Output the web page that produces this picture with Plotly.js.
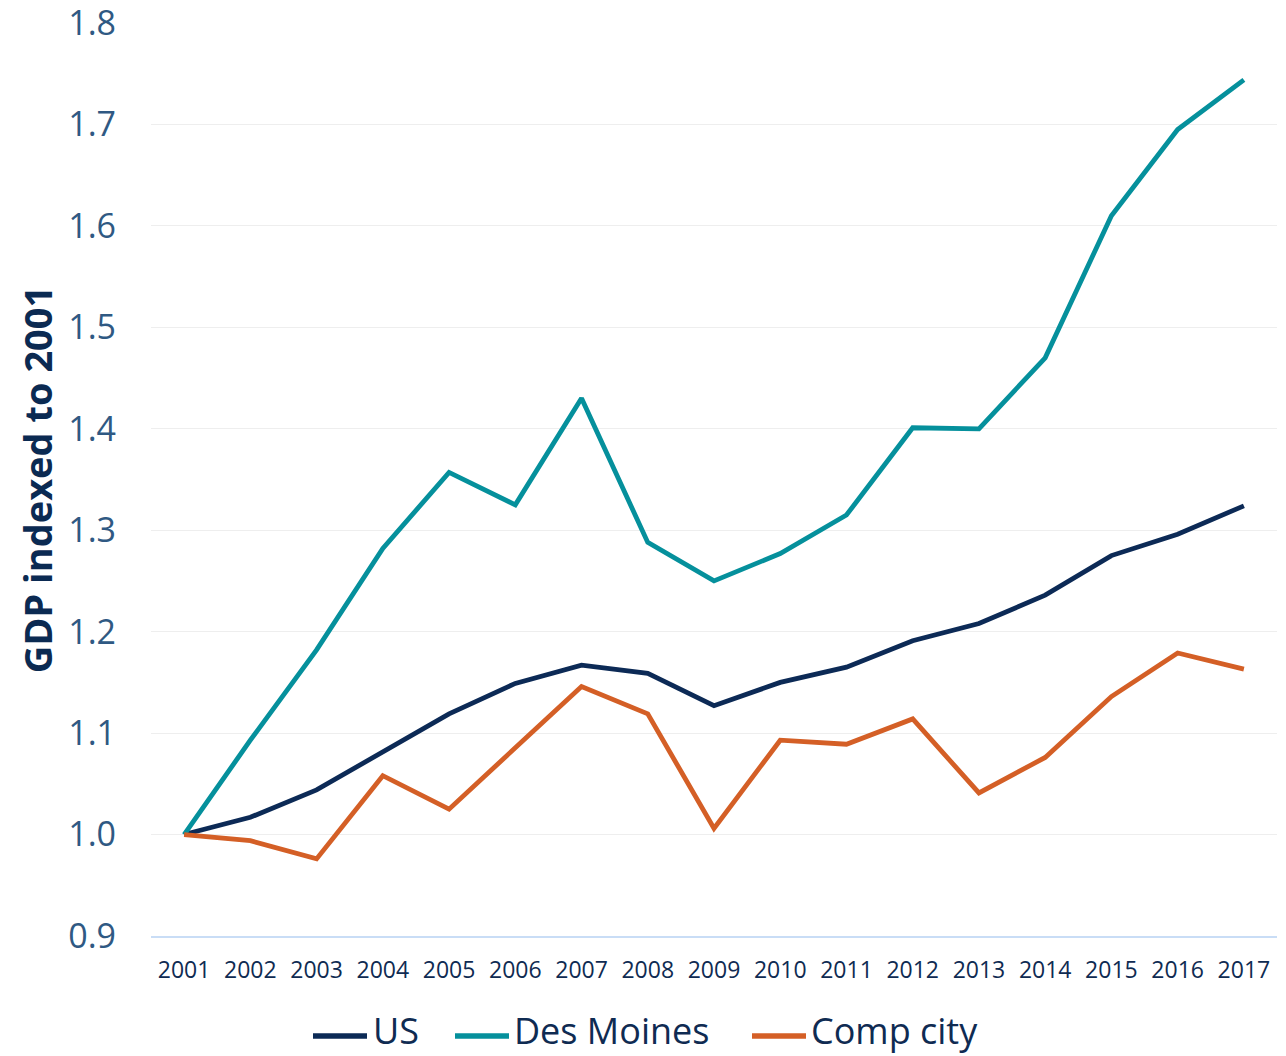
<!DOCTYPE html>
<html>
<head>
<meta charset="utf-8">
<script src="https://cdn.plot.ly/plotly-3.0.1.min.js"></script>
<style>html,body{margin:0;padding:0;background:#fff;}#chart{width:1286px;height:1056px;}</style>
</head>
<body>
<div id="chart"></div>
<script>
const years = ["2001","2002","2003","2004","2005","2006","2007","2008","2009","2010","2011","2012","2013","2014","2015","2016","2017"];
const usValues = [1.000,1.017,1.044,1.081,1.119,1.149,1.167,1.159,1.127,1.150,1.165,1.191,1.208,1.236,1.275,1.296,1.324];
const desMoinesValues = [1.000,1.093,1.182,1.282,1.357,1.325,1.430,1.288,1.250,1.277,1.315,1.401,1.400,1.470,1.610,1.695,1.744];
const compCityValues = [1.000,0.994,0.976,1.058,1.025,1.086,1.146,1.119,1.006,1.093,1.089,1.114,1.041,1.076,1.136,1.179,1.163];
const yTicks = [0.9,1.0,1.1,1.2,1.3,1.4,1.5,1.6,1.7,1.8];
const seriesNames = ['US','Des Moines','Comp city'];
const seriesColors = ['#0c2a56','#05909c','#d45f26'];
const seriesValues = [usValues, desMoinesValues, compCityValues];

const data = seriesNames.map((name, i) => ({
  type: 'scatter', mode: 'lines', name: name, x: years, y: seriesValues[i],
  line: {color: seriesColors[i], width: 4.8}, showlegend: false
}));

// manual legend (pixel positions converted to paper coords)
const plotL = 151, plotR = 1277, plotT = 23, plotB = 936;
const px = v => (v - plotL) / (plotR - plotL);
const py = v => (plotB - v) / (plotB - plotT);
const legendItems = [
  {line: [313, 367], text: 372},
  {line: [455, 509], text: 513},
  {line: [752, 806], text: 810}
];
const legY = 1036;
const shapes = legendItems.map((it, i) => ({
  type: 'line', xref: 'paper', yref: 'paper',
  x0: px(it.line[0]), x1: px(it.line[1]), y0: py(legY), y1: py(legY),
  line: {color: seriesColors[i], width: 5.5}
}));
const annotations = legendItems.map((it, i) => ({
  xref: 'paper', yref: 'paper', x: px(it.text), y: py(1056),
  xanchor: 'left', yanchor: 'bottom', showarrow: false, borderpad: 0,
  text: seriesNames[i], font: {size: 36, color: '#0f2b52'}
}));

const layout = {
  width: 1286, height: 1056,
  margin: {l: plotL, r: 1286 - plotR, t: plotT, b: 1056 - plotB},
  paper_bgcolor: '#fff', plot_bgcolor: '#fff',
  font: {family: 'Open Sans, sans-serif'},
  showlegend: false,
  xaxis: {
    type: 'category', range: [-0.5, years.length - 0.5],
    showgrid: false, zeroline: false,
    showline: true, linecolor: '#c9ddf6', linewidth: 2,
    ticks: '', ticklabelstandoff: 12,
    tickfont: {size: 23, color: '#0f2b52'}, automargin: false
  },
  yaxis: {
    range: [0.89999, 1.80001], tickvals: yTicks, ticktext: yTicks.map(v => v.toFixed(1)),
    showgrid: true, gridcolor: '#eeeeee', gridwidth: 1, zeroline: false,
    showline: false, ticks: '', ticklabelstandoff: 34, ticklabeloverflow: 'allow',
    tickfont: {size: 34, color: '#2f5983'},
    title: {text: '<b>GDP indexed to 2001</b>', standoff: 3, font: {size: 38, color: '#0b2a52'}},
    automargin: false
  },
  shapes: shapes,
  annotations: annotations
};
Plotly.newPlot('chart', data, layout, {displayModeBar: false, staticPlot: true});
</script>
</body>
</html>
